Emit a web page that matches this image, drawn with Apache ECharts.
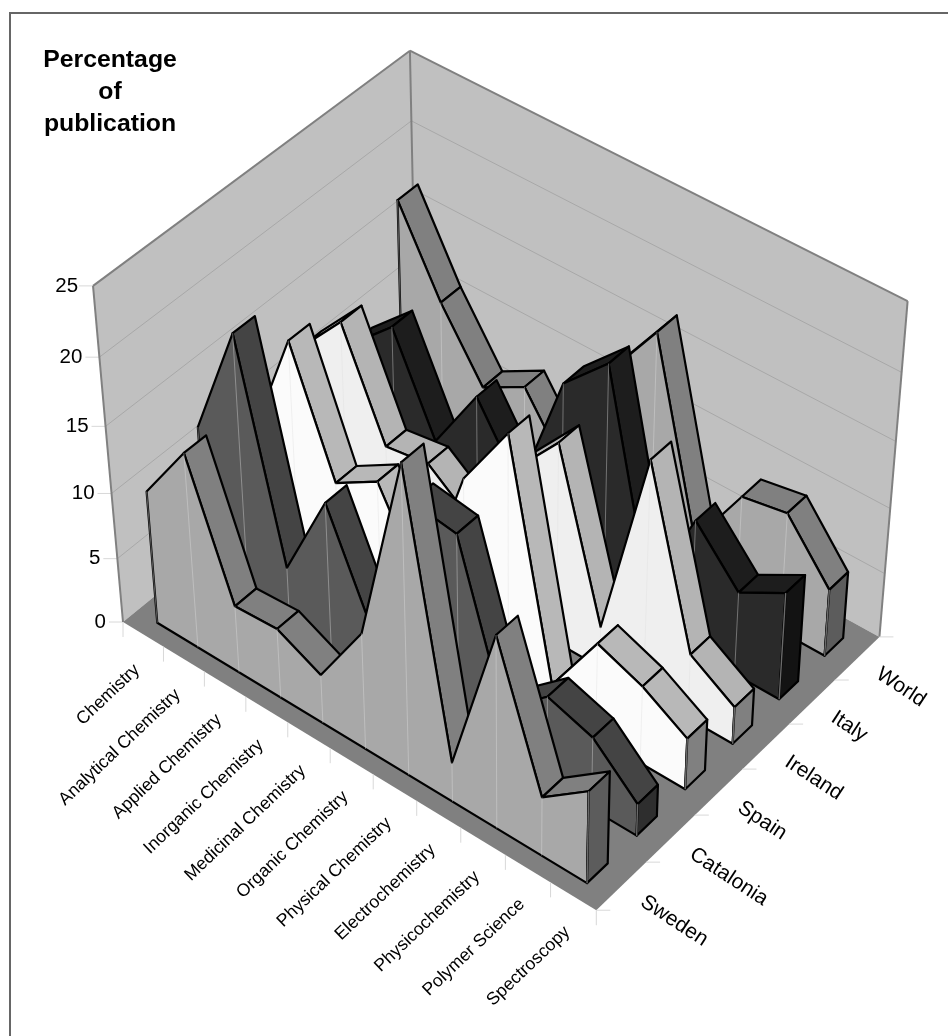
<!DOCTYPE html>
<html><head><meta charset="utf-8">
<style>html,body{margin:0;padding:0;background:#fff}#c{width:948px;height:1036px}</style>
<script src="https://cdn.jsdelivr.net/npm/echarts@6/dist/echarts.min.js"></script>
</head><body><div id="c"></div>
<script>
const categories=['Chemistry','Analytical Chemistry','Applied Chemistry','Inorganic Chemistry','Medicinal Chemistry','Organic Chemistry','Physical Chemistry','Electrochemistry','Physicochemistry','Polymer Science','Spectroscopy'];
const seriesNames=['Sweden','Catalonia','Spain','Ireland','Italy','World'];
const valueTicks=[0,5,10,15,20,25];
const sweden=[10.2,14.9,5.2,5.4,3.8,9.0,23.3,3.1,14.8,4.6,7.2];
const catalonia=[11.9,20.5,4.85,11.7,3.9,15.5,15.0,3.8,6.7,5.6,2.5];
const spain=[8.2,17.0,8.15,10.1,3.9,14.0,19.1,2.1,7.3,6.0,4.0];
const ireland=[11.8,15.4,7.8,8.3,5.8,11.5,15.3,3.2,17.7,5.0,2.9];
const italy=[9.1,12.1,5.1,10.3,5.2,14.8,18.0,2.8,10.0,6.4,8.3];
const world=[17.0,11.0,6.2,8.0,3.3,12.8,17.3,3.4,8.6,9.2,5.2];
const seriesValues=[sweden,catalonia,spain,ireland,italy,world];
const faceColors=['#a8a8a8','#5a5a5a','#fbfbfb','#efefef','#2a2a2a','#a8a8a8'];
const stripColors=['#808080','#444444','#b8b8b8','#b4b4b4','#1d1d1d','#808080'];
const endColors=['#5c5c5c','#2e2e2e','#808080','#808080','#131313','#5c5c5c'];

const VMAX=25, N=categories.length, M=seriesNames.length, FRONT_GAP=0.038, BACK_GAP=0.031;
// perspective camera of the box: u along categories, w along series, h up
function project(u,w,v){
  const h=v/VMAX;
  const d=1-0.0654*u+0.0632*w-0.0713*h;
  return [(123+434.3*u+320.2*w-36.6*h)/d,(622+228.7*u-215.2*w-356.5*h)/d];
}
const uAt=i=>(i+0.5)/N;
const chart=echarts.init(document.getElementById('c'),null,{renderer:'canvas'});

function poly(api,pts,fill,stroke,lw){
  return {type:'polygon',shape:{points:pts.map(p=>api.coord(p))},
    style:{fill:fill,stroke:stroke,lineWidth:lw,lineJoin:'round'}};
}
function line(api,a,b,stroke,lw){
  const p=api.coord(a),q=api.coord(b);
  return {type:'line',shape:{x1:p[0],y1:p[1],x2:q[0],y2:q[1]},style:{stroke:stroke,lineWidth:lw}};
}
function text(api,p,t,font,align,rot){
  const c=api.coord(p);
  return {type:'text',x:c[0],y:c[1],rotation:rot||0,
    style:{text:t,fill:'#000',font:font,align:align,verticalAlign:'middle'}};
}
function renderBox(params,api){
  const ch=[];
  const L=project(0,0,0),F=project(1,0,0),R=project(1,1,0),B=project(0,1,0);
  const LT=project(0,0,VMAX),BT=project(0,1,VMAX),RT=project(1,1,VMAX);
  ch.push(line(api,[9,13],[948,13],'#666',2));
  ch.push(line(api,[10,13],[10,1036],'#666',2));
  ch.push(poly(api,[L,B,BT,LT],'#c0c0c0','none',0));
  ch.push(poly(api,[B,R,RT,BT],'#c0c0c0','none',0));
  ch.push(poly(api,[L,F,R,B],'#808080','none',0));
  valueTicks.forEach(v=>{
    if(v>0&&v<VMAX){
      ch.push(line(api,project(0,0,v),project(0,1,v),'#a8a8a8',1));
      ch.push(line(api,project(0,1,v),project(1,1,v),'#a8a8a8',1));
    }
    const p=project(0,0,v);
    ch.push(line(api,[p[0]-14,p[1]],p,'#d8d8d8',1));
    ch.push(text(api,[p[0]-17+(v===25?2:0),p[1]],String(v),'20.5px "Liberation Sans"','right'));
  });
  ch.push(line(api,L,LT,'#808080',2));
  ch.push(line(api,LT,BT,'#808080',2));
  ch.push(line(api,BT,RT,'#808080',2));
  ch.push(line(api,RT,R,'#808080',2));
  ch.push(line(api,BT,B,'#808080',2));
  for(let k=0;k<=N;k++){const p=project(k/N,0,0);ch.push(line(api,p,[p[0],p[1]+15],'#d8d8d8',1));}
  for(let k=0;k<=M;k++){const p=project(1,k/M,0);ch.push(line(api,p,[p[0]+14,p[1]],'#d8d8d8',1));}
  categories.forEach((c,i)=>{
    const p=project(uAt(i),0,0);
    ch.push(text(api,[p[0]-6,p[1]+33],c,'17.7px "Liberation Sans"','right',0.76));
  });
  seriesNames.forEach((s,j)=>{
    const p=project(1,(j+0.5)/M,0);
    ch.push(text(api,[p[0]+21,p[1]+14],s,'21px "Liberation Sans"','left',-0.58));
  });
  ['Percentage','of','publication'].forEach((t,i)=>{
    ch.push(text(api,[110,60+32*i],t,'bold 24.8px "Liberation Sans"','center'));
  });
  return {type:'group',children:ch};
}
function renderRibbon(j,api){
  const vals=seriesValues[j];
  const wc=(j+0.5)/M, wf=wc-FRONT_GAP, wb=wc+BACK_GAP;
  const ch=[];
  const f=i=>project(uAt(i),wf,vals[i]), b=i=>project(uAt(i),wb,vals[i]);
  const f0=i=>project(uAt(i),wf,0), b0=i=>project(uAt(i),wb,0);
  for(let i=0;i<N-1;i++){
    const q=[f(i),f(i+1),b(i+1),b(i)];
    let area=0;
    for(let k=0;k<4;k++){const a=q[k],c=q[(k+1)%4];area+=a[0]*c[1]-c[0]*a[1];}
    if(area<0) ch.push(poly(api,q,stripColors[j],'#000',2.2));
  }
  const top=[];for(let i=0;i<N;i++)top.push(f(i));
  ch.push(poly(api,[f0(0)].concat(top,[f0(N-1)]),faceColors[j],'#000',2.2));
  for(let i=0;i<N;i++){
    ch.push(line(api,f(i),f0(i),'rgba(222,222,222,0.5)',0.8));
  }
  ch.push(poly(api,[f(N-1),f0(N-1),b0(N-1),b(N-1)],endColors[j],'#000',2.2));
  ch.push(line(api,f(N-1),f0(N-1),'#6a6a6a',1.4));
  return {type:'group',children:ch};
}
const series=[{type:'custom',coordinateSystem:'cartesian2d',renderItem:renderBox,data:[[0,0]],silent:true,clip:false,z:1}];
for(let j=M-1;j>=0;j--){
  series.push({type:'custom',coordinateSystem:'cartesian2d',name:seriesNames[j],
    renderItem:(p,api)=>renderRibbon(j,api),
    data:[[0,0]],silent:true,clip:false,z:2+(M-j)});
}
chart.setOption({
  animation:false,backgroundColor:'#fff',
  grid:{left:0,top:0,right:0,bottom:0},
  xAxis:{type:'value',min:0,max:948,show:false},
  yAxis:{type:'value',min:0,max:1036,inverse:true,show:false},
  series:series
});
</script></body></html>
